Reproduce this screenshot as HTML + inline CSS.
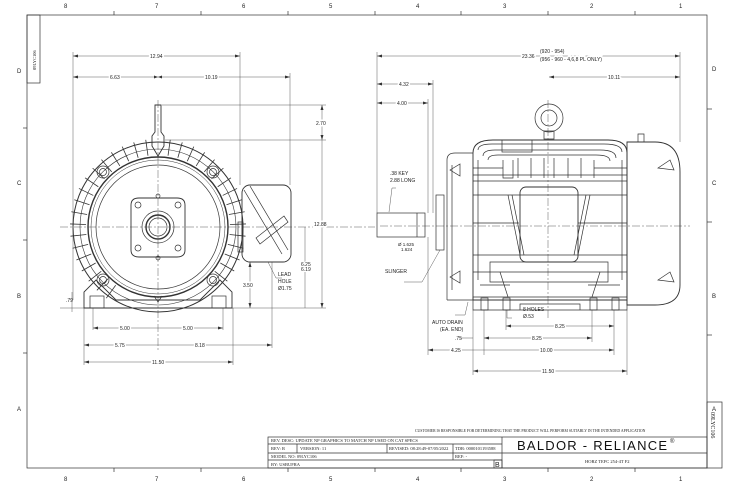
<!DOCTYPE html>
<html><head><meta charset="utf-8"><style>
html,body{margin:0;padding:0;background:#fff}
svg{display:block}
text{font-family:"Liberation Sans",sans-serif;fill:#222}
.s{font-size:6px}
.t{font-family:"Liberation Serif",serif;font-size:4.5px}
</style></head><body>
<svg width="750" height="486" viewBox="0 0 750 486" xmlns="http://www.w3.org/2000/svg">
<g stroke="#333" fill="none" stroke-width="0.7">
<rect x="27" y="15" width="680" height="453"/>
<line x1="114" y1="11" x2="114" y2="15"/><line x1="201" y1="11" x2="201" y2="15"/><line x1="288" y1="11" x2="288" y2="15"/><line x1="375" y1="11" x2="375" y2="15"/><line x1="461" y1="11" x2="461" y2="15"/><line x1="548" y1="11" x2="548" y2="15"/><line x1="635" y1="11" x2="635" y2="15"/>
<line x1="114" y1="468" x2="114" y2="472"/><line x1="201" y1="468" x2="201" y2="472"/><line x1="288" y1="468" x2="288" y2="472"/><line x1="375" y1="468" x2="375" y2="472"/><line x1="461" y1="468" x2="461" y2="472"/><line x1="548" y1="468" x2="548" y2="472"/><line x1="635" y1="468" x2="635" y2="472"/>
<line x1="23" y1="128" x2="27" y2="128"/><line x1="23" y1="240" x2="27" y2="240"/><line x1="23" y1="353" x2="27" y2="353"/>
<line x1="707" y1="109" x2="712" y2="109"/><line x1="707" y1="222" x2="712" y2="222"/><line x1="707" y1="335" x2="712" y2="335"/>
<rect x="27" y="15" width="13" height="68"/>
<rect x="707" y="402" width="15" height="66"/>
<rect x="268" y="437" width="439" height="31"/>
<line x1="502" y1="437" x2="502" y2="468"/>
<line x1="268" y1="444" x2="502" y2="444"/><line x1="268" y1="453" x2="707" y2="453"/><line x1="268" y1="460" x2="502" y2="460"/>
<line x1="297" y1="444" x2="297" y2="453"/><line x1="387" y1="444" x2="387" y2="453"/><line x1="453" y1="444" x2="453" y2="460"/>
<rect x="494" y="460" width="8" height="8"/>

<g stroke-dasharray="8 2 2 2" stroke-width="0.4">
<line x1="60" y1="227" x2="375" y2="227"/><line x1="158" y1="100" x2="158" y2="350"/>
<line x1="380" y1="226" x2="690" y2="226"/><line x1="548" y1="100" x2="548" y2="320"/>
</g>
<circle cx="158" cy="227" r="85" stroke-width="1"/>
<circle cx="158" cy="227" r="78" stroke-width="0.6"/>
<circle cx="158" cy="227" r="70" stroke-width="1.4"/>
<circle cx="158" cy="227" r="67" stroke-width="0.5"/>
<circle cx="158" cy="227" r="62"/>
<g stroke-width="0.8">
<line x1="158" y1="139" x2="158" y2="155" transform="rotate(-144 158 227)"/>
<line x1="158" y1="139" x2="158" y2="155" transform="rotate(-136 158 227)"/>
<line x1="158" y1="139" x2="158" y2="155" transform="rotate(-128 158 227)"/>
<line x1="158" y1="139" x2="158" y2="155" transform="rotate(-120 158 227)"/>
<line x1="158" y1="139" x2="158" y2="155" transform="rotate(-112 158 227)"/>
<line x1="158" y1="139" x2="158" y2="155" transform="rotate(-104 158 227)"/>
<line x1="158" y1="139" x2="158" y2="155" transform="rotate(-96 158 227)"/>
<line x1="158" y1="139" x2="158" y2="155" transform="rotate(-88 158 227)"/>
<line x1="158" y1="139" x2="158" y2="155" transform="rotate(-80 158 227)"/>
<line x1="158" y1="139" x2="158" y2="155" transform="rotate(-72 158 227)"/>
<line x1="158" y1="139" x2="158" y2="155" transform="rotate(-64 158 227)"/>
<line x1="158" y1="139" x2="158" y2="155" transform="rotate(-56 158 227)"/>
<line x1="158" y1="139" x2="158" y2="155" transform="rotate(-48 158 227)"/>
<line x1="158" y1="139" x2="158" y2="155" transform="rotate(-40 158 227)"/>
<line x1="158" y1="139" x2="158" y2="155" transform="rotate(-32 158 227)"/>
<line x1="158" y1="139" x2="158" y2="155" transform="rotate(-24 158 227)"/>
<line x1="158" y1="139" x2="158" y2="155" transform="rotate(-16 158 227)"/>
<line x1="158" y1="139" x2="158" y2="155" transform="rotate(-8 158 227)"/>
<line x1="158" y1="139" x2="158" y2="155" transform="rotate(8 158 227)"/>
<line x1="158" y1="139" x2="158" y2="155" transform="rotate(16 158 227)"/>
<line x1="158" y1="139" x2="158" y2="155" transform="rotate(24 158 227)"/>
<line x1="158" y1="139" x2="158" y2="155" transform="rotate(32 158 227)"/>
<line x1="158" y1="139" x2="158" y2="155" transform="rotate(40 158 227)"/>
<line x1="158" y1="139" x2="158" y2="155" transform="rotate(48 158 227)"/>
<line x1="158" y1="139" x2="158" y2="155" transform="rotate(56 158 227)"/>
<line x1="158" y1="139" x2="158" y2="155" transform="rotate(64 158 227)"/>
<line x1="158" y1="139" x2="158" y2="155" transform="rotate(72 158 227)"/>
<line x1="158" y1="139" x2="158" y2="155" transform="rotate(80 158 227)"/>
<line x1="158" y1="139" x2="158" y2="155" transform="rotate(88 158 227)"/>
<line x1="158" y1="139" x2="158" y2="155" transform="rotate(96 158 227)"/>
<line x1="158" y1="139" x2="158" y2="155" transform="rotate(104 158 227)"/>
<line x1="158" y1="139" x2="158" y2="155" transform="rotate(112 158 227)"/>
<line x1="158" y1="139" x2="158" y2="155" transform="rotate(120 158 227)"/>
<line x1="158" y1="139" x2="158" y2="155" transform="rotate(128 158 227)"/>
</g>
<path d="M131 205 q0-7 8-7 h38 q8 0 8 7 v45 q0 7-8 7 h-38 q-8 0-8-7z" stroke-width="0.9"/>
<circle cx="158" cy="227" r="16"/><circle cx="158" cy="227" r="12" stroke-width="1.4"/><circle cx="158" cy="227" r="9"/>
<circle cx="138" cy="205" r="3"/><circle cx="178" cy="205" r="3"/><circle cx="138" cy="248" r="3"/><circle cx="178" cy="248" r="3"/>
<circle cx="158" cy="196" r="2"/><circle cx="158" cy="258" r="2"/>
<circle cx="103" cy="172" r="6"/><circle cx="103" cy="172" r="3.5"/><circle cx="213" cy="172" r="6"/><circle cx="213" cy="172" r="3.5"/>
<circle cx="103" cy="280" r="6"/><circle cx="103" cy="280" r="3.5"/><circle cx="213" cy="280" r="6"/><circle cx="213" cy="280" r="3.5"/>
<path d="M155 105 h6 v27 l3 4 v10 l-6 10 l-6 -10 v-10 l3 -4z" stroke-width="0.9"/>
<path d="M84 308 v-16 l12 -12 l20 20 h84 l20 -20 l12 12 v16z" stroke-width="0.9"/>
<rect x="90" y="296" width="14" height="12"/><rect x="212" y="296" width="14" height="12"/>
<path d="M154 296 l4 6 l4 -6"/>
<rect x="242" y="185" width="49" height="77" rx="8" stroke-width="0.9"/>
<path d="M244 190 l38 64 M250 186 l38 64 M256 238 l28 -22 l4 6 l-28 22z"/>
<rect x="238" y="222" width="5" height="30"/>
<g stroke-width="0.4">
<line x1="73" y1="52" x2="73" y2="300"/><line x1="240" y1="52" x2="240" y2="185"/><line x1="290" y1="73" x2="290" y2="185"/>
<line x1="73" y1="56" x2="240" y2="56"/><line x1="73" y1="77" x2="290" y2="77"/>
<line x1="162" y1="105" x2="326" y2="105"/><line x1="165" y1="140" x2="326" y2="140"/>
<line x1="322" y1="105" x2="322" y2="308"/><line x1="305" y1="227" x2="305" y2="308"/>
<line x1="60" y1="308" x2="326" y2="308"/>
<line x1="250" y1="262" x2="250" y2="308"/><line x1="272" y1="262" x2="272" y2="348"/>
<line x1="84" y1="308" x2="84" y2="365"/><line x1="233" y1="308" x2="233" y2="365"/>
<line x1="93" y1="308" x2="93" y2="330"/><line x1="223" y1="308" x2="223" y2="330"/>
<line x1="93" y1="328" x2="223" y2="328"/><line x1="84" y1="345" x2="272" y2="345"/><line x1="84" y1="362" x2="233" y2="362"/>
<line x1="72" y1="292" x2="72" y2="312"/>
<polyline points="268,262 276,278 282,278"/>
</g>

<circle cx="549" cy="118" r="14"/><circle cx="549" cy="118" r="8"/>
<path d="M544 131 h10 v8 h-10z"/>
<path d="M473 300 V153 q0-13 20-13 h115 q19 0 19 13 V300z" stroke-width="0.9"/>
<path d="M478 150 q0-6 14-6 h112 q18 0 18 8 M483 156 q0-6 12-6 h105 q16 0 16 8 M488 160 q0-5 10-5 h98 q14 0 14 6"/>
<rect x="502" y="140" width="30" height="12"/>
<path d="M473 175 h154 M473 181 h154 M473 195 h154 M473 223 h46 M578 223 h49 M473 255 h154 M473 272 h154 M478 160 v120 M622 160 v120 M473 168 h30 M594 168 h33"/>
<rect x="520" y="187" width="58" height="75" rx="6" stroke-width="0.9"/>
<path d="M508 195 l12 60 M512 195 l12 60 M590 195 l-12 60 M586 195 l-12 60"/>
<path d="M503 160 v18 h10 v-18 M518 158 v20 M531 158 v20 M568 158 v20 M581 158 v20 M594 160 v18 M544 158 v20 M554 158 v20"/>
<path d="M490 262 h118 v20 h-118z M500 272 l8 25 M600 272 l-8 25 M480 285 h30 M588 285 h32"/>
<path d="M447 300 V160 q0-7 8-7 h18 M447 300 h26 M452 290 V165"/>
<path d="M450 170 l10 -6 v12z M450 277 l10 -6 v12z"/>
<rect x="436" y="195" width="8" height="55"/>
<path d="M473 297 h154 v13 h-154z M520 310 v-6 h60 v6"/>
<rect x="481" y="298" width="7" height="12"/><rect x="503" y="298" width="7" height="12"/><rect x="590" y="298" width="7" height="12"/><rect x="612" y="298" width="7" height="12"/>
<path d="M627 305 V142 h28 q25 0 25 30 V285 q0 20-25 20z" stroke-width="0.9"/>
<path d="M658 168 l12 -8 l4 10z M658 280 l12 -8 l4 10z"/>
<path d="M638 142 v-8 h6 v8"/>
<rect x="377" y="213" width="48" height="24"/><line x1="417" y1="213" x2="417" y2="237"/>
<g stroke-width="0.4">
<line x1="377" y1="52" x2="377" y2="213"/><line x1="680" y1="52" x2="680" y2="142"/>
<line x1="377" y1="56" x2="680" y2="56"/><line x1="549" y1="77" x2="680" y2="77"/>
<line x1="377" y1="84" x2="433" y2="84"/><line x1="433" y1="80" x2="433" y2="213"/>
<line x1="377" y1="103" x2="428" y2="103"/><line x1="428" y1="99" x2="428" y2="213"/>
<line x1="428" y1="237" x2="428" y2="355"/><line x1="473" y1="310" x2="473" y2="375"/><line x1="627" y1="310" x2="627" y2="375"/>
<line x1="484" y1="310" x2="484" y2="355"/><line x1="614" y1="310" x2="614" y2="355"/><line x1="506" y1="310" x2="506" y2="330"/><line x1="592" y1="310" x2="592" y2="342"/>
<line x1="506" y1="326" x2="614" y2="326"/><line x1="484" y1="338" x2="592" y2="338"/>
<line x1="428" y1="350" x2="614" y2="350"/><line x1="473" y1="371" x2="627" y2="371"/>
<line x1="460" y1="338" x2="473" y2="338"/>
<polyline points="396,188 392,188 389,212"/>
<polyline points="404,282 422,282 440,250"/>
<polyline points="455,315 465,315 468,302"/>
<polyline points="512,318 507,318 507,310"/>
</g>
</g>
<g fill="#333">
<path d="M73 56 l5 -1.5 v3z M240 56 l-5 -1.5 v3z M73 77 l5 -1.5 v3z M290 77 l-5 -1.5 v3z M158 77 l-4 -1.5 v3z M158 77 l4 -1.5 v3z"/>
<path d="M377 56 l5 -1.5 v3z M680 56 l-5 -1.5 v3z M549 77 l5 -1.5 v3z M680 77 l-5 -1.5 v3z M377 84 l5 -1.5 v3z M433 84 l-5 -1.5 v3z M377 103 l5 -1.5 v3z M428 103 l-5 -1.5 v3z"/>
<path d="M84 362 l5 -1.5 v3z M233 362 l-5 -1.5 v3z M473 371 l5 -1.5 v3z M627 371 l-5 -1.5 v3z M93 328 l5 -1.5 v3z M223 328 l-5 -1.5 v3z M84 345 l5 -1.5 v3z M272 345 l-5 -1.5 v3z"/>
<path d="M322 105 l-1.5 5 h3z M322 140 l-1.5 -5 h3z M322 308 l-1.5 -5 h3z M250 262 l-1.5 5 h3z M250 308 l-1.5 -5 h3z"/>
<path d="M506 326 l5 -1.5 v3z M614 326 l-5 -1.5 v3z M484 338 l5 -1.5 v3z M592 338 l-5 -1.5 v3z M428 350 l5 -1.5 v3z M614 350 l-5 -1.5 v3z"/>
</g>
<g class="s">
<text x="64" y="8">8</text><text x="155" y="8">7</text><text x="242" y="8">6</text><text x="329" y="8">5</text><text x="416" y="8">4</text><text x="503" y="8">3</text><text x="590" y="8">2</text><text x="679" y="8">1</text>
<text x="64" y="481">8</text><text x="155" y="481">7</text><text x="242" y="481">6</text><text x="329" y="481">5</text><text x="416" y="481">4</text><text x="503" y="481">3</text><text x="590" y="481">2</text><text x="679" y="481">1</text>
<text x="17" y="73">D</text><text x="17" y="185">C</text><text x="17" y="298">B</text><text x="17" y="411">A</text>
<text x="712" y="71">D</text><text x="712" y="185">C</text><text x="712" y="298">B</text><text x="712" y="411">A</text>
<text x="150" y="58" style="font-size:5px" stroke="#fff" stroke-width="3" paint-order="stroke">12.94</text>
<text x="110" y="79" style="font-size:5px" stroke="#fff" stroke-width="3" paint-order="stroke">6.63</text>
<text x="205" y="79" style="font-size:5px" stroke="#fff" stroke-width="3" paint-order="stroke">10.19</text>
<text x="316" y="125" style="font-size:5px" stroke="#fff" stroke-width="3" paint-order="stroke">2.70</text>
<text x="314" y="226" style="font-size:5px" stroke="#fff" stroke-width="3" paint-order="stroke">12.88</text>
<text x="301" y="266" style="font-size:5px" stroke="#fff" stroke-width="2" paint-order="stroke">6.25</text>
<text x="301" y="271" style="font-size:5px" stroke="#fff" stroke-width="2" paint-order="stroke">6.19</text>
<text x="243" y="287" style="font-size:5px" stroke="#fff" stroke-width="3" paint-order="stroke">3.50</text>
<text x="278" y="276" style="font-size:5px">LEAD</text><text x="278" y="283" style="font-size:5px">HOLE</text><text x="278" y="290" style="font-size:5px">Ø1.75</text>
<text x="66" y="302" style="font-size:5px">.79</text>
<text x="120" y="330" style="font-size:5px" stroke="#fff" stroke-width="3" paint-order="stroke">5.00</text>
<text x="183" y="330" style="font-size:5px" stroke="#fff" stroke-width="3" paint-order="stroke">5.00</text>
<text x="115" y="347" style="font-size:5px" stroke="#fff" stroke-width="3" paint-order="stroke">5.75</text>
<text x="195" y="347" style="font-size:5px" stroke="#fff" stroke-width="3" paint-order="stroke">8.18</text>
<text x="152" y="364" style="font-size:5px" stroke="#fff" stroke-width="3" paint-order="stroke">11.50</text>
<text x="522" y="58" style="font-size:5px" stroke="#fff" stroke-width="3" paint-order="stroke">23.36</text>
<text x="540" y="53" style="font-size:5px">(920 - 954)</text>
<text x="540" y="61" style="font-size:5px" stroke="#fff" stroke-width="3" paint-order="stroke">(956 - 960 - 4,6,8 PL ONLY)</text>
<text x="608" y="79" style="font-size:5px" stroke="#fff" stroke-width="3" paint-order="stroke">10.11</text>
<text x="399" y="86" style="font-size:5px" stroke="#fff" stroke-width="3" paint-order="stroke">4.32</text>
<text x="397" y="105" style="font-size:5px" stroke="#fff" stroke-width="3" paint-order="stroke">4.00</text>
<text x="390" y="175" style="font-size:5px">.38 KEY</text><text x="390" y="182" style="font-size:5px">2.88 LONG</text>
<text x="398" y="246" style="font-size:4.5px">Ø 1.625</text><text x="401" y="251" style="font-size:4.5px">1.624</text>
<text x="385" y="273" style="font-size:5px">SLINGER</text>
<text x="432" y="324" style="font-size:5px">AUTO DRAIN</text><text x="440" y="331" style="font-size:5px">(EA. END)</text>
<text x="455" y="340" style="font-size:5px">.75</text>
<text x="451" y="352" style="font-size:5px" stroke="#fff" stroke-width="3" paint-order="stroke">4.25</text>
<text x="523" y="311" style="font-size:5px">8 HOLES</text><text x="523" y="318" style="font-size:5px">Ø.53</text>
<text x="555" y="328" style="font-size:5px" stroke="#fff" stroke-width="3" paint-order="stroke">8.25</text>
<text x="532" y="340" style="font-size:5px" stroke="#fff" stroke-width="3" paint-order="stroke">8.25</text>
<text x="540" y="352" style="font-size:5px" stroke="#fff" stroke-width="3" paint-order="stroke">10.00</text>
<text x="542" y="373" style="font-size:5px" stroke="#fff" stroke-width="3" paint-order="stroke">11.50</text>
</g>
<text transform="translate(36 70) rotate(-90)" class="t">09LYC106</text>
<text transform="translate(711 412) rotate(90)" class="t" style="font-size:6px">09LYC106</text>
<text x="415" y="432" class="t" style="font-size:3.8px">CUSTOMER IS RESPONSIBLE FOR DETERMINING THAT THE PRODUCT WILL PERFORM SUITABLY IN THE INTENDED APPLICATION</text>
<text x="271" y="442" class="t">REV. DESC: UPDATE NP GRAPHICS TO MATCH NP USED ON CAT SPECS</text>
<text x="271" y="450" class="t">REV:  R</text><text x="300" y="450" class="t">VERSION:  11</text>
<text x="389" y="450" class="t">REVISED:  08:28:49-07/05/2022</text><text x="455" y="450" class="t">TDR:  0000101193588</text>
<text x="271" y="458" class="t">MODEL NO:  09LYC106</text><text x="455" y="458" class="t">REF:  -</text>
<text x="271" y="466" class="t">BY: USBUFRA</text>
<text x="495" y="467" style="font-size:7px">B</text>
<text x="517" y="450" style="font-size:13px;fill:#111" textLength="150" lengthAdjust="spacing">BALDOR - RELIANCE</text>
<text x="670" y="443" style="font-size:6px">®</text>
<text x="585" y="463" class="t">HORZ TEFC 254-4T F2</text>
</svg>
</body></html>
